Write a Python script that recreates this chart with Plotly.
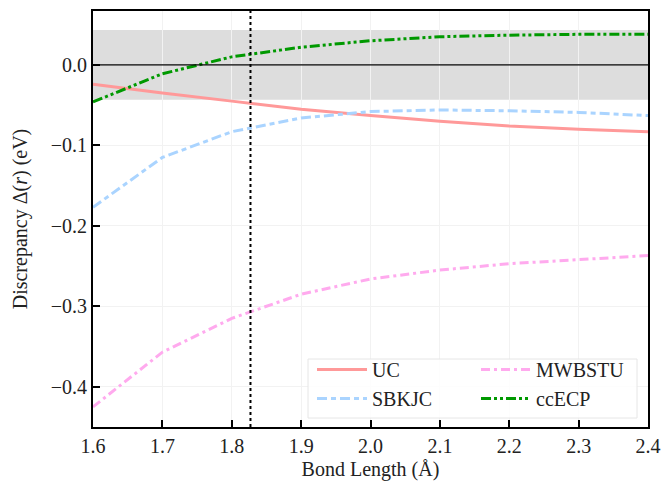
import plotly.graph_objects as go

bond_length = [1.6, 1.7, 1.8, 1.9, 2.0, 2.1, 2.2, 2.3, 2.4]
uc = [-0.024, -0.035, -0.045, -0.055, -0.063, -0.070, -0.076, -0.080, -0.083]
sbkjc = [-0.177, -0.115, -0.083, -0.066, -0.058, -0.056, -0.057, -0.059, -0.063]
mwbstu = [-0.425, -0.357, -0.315, -0.285, -0.266, -0.255, -0.247, -0.242, -0.237]
ccecp = [-0.046, -0.011, 0.010, 0.022, 0.030, 0.035, 0.037, 0.038, 0.038]
chem_acc = 0.0434
r_eq = 1.827
x_ticks = [1.6, 1.7, 1.8, 1.9, 2.0, 2.1, 2.2, 2.3, 2.4]
y_ticks = [0.0, -0.1, -0.2, -0.3, -0.4]

FONT = "Liberation Serif"
FS = 20

fig = go.Figure()
fig.add_hrect(y0=-chem_acc, y1=chem_acc, fillcolor="#dddddd", line_width=0, layer="below")
fig.add_hline(y=0, line=dict(color="black", width=1.3))
fig.add_vline(x=r_eq, line=dict(color="black", width=2, dash="3px,3px"))

fig.add_trace(go.Scatter(x=bond_length, y=uc, name="UC", mode="lines",
                         line=dict(color="#ff9999", width=3), legend="legend"))
fig.add_trace(go.Scatter(x=bond_length, y=sbkjc, name="SBKJC", mode="lines",
                         line=dict(color="#aad4ff", width=3, dash="10px,4px,5px,4px"), legend="legend"))
fig.add_trace(go.Scatter(x=bond_length, y=mwbstu, name="MWBSTU", mode="lines",
                         line=dict(color="#ffaaee", width=3, dash="9px,4px,3px,4px"), legend="legend2"))
fig.add_trace(go.Scatter(x=bond_length, y=ccecp, name="ccECP", mode="lines",
                         line=dict(color="#009900", width=3, dash="10px,3px,3px,3px,3px,3px"), legend="legend2"))

# legend frame
fig.add_shape(type="rect", xref="paper", yref="paper",
              x0=(308-93)/555, x1=(637-93)/555, y0=(427-418)/416, y1=(427-359)/416,
              line=dict(color="#e6e6e6", width=1), fillcolor="rgba(255,255,255,0.85)", layer="above")

leg_common = dict(bgcolor="rgba(0,0,0,0)", borderwidth=0, font=dict(family=FONT, size=FS, color="#222"),
                  yanchor="bottom", xanchor="left", itemwidth=50, tracegroupgap=0)
fig.update_layout(
    legend=dict(x=(312-93)/555, y=(427-418)/416, **leg_common),
    legend2=dict(x=(476-93)/555, y=(427-418)/416, **leg_common),
)

axis_common = dict(showline=True, linecolor="black", linewidth=2, mirror=True,
                   ticks="inside", ticklen=7, tickwidth=2, tickcolor="black",
                   showgrid=True, gridcolor="#f2f2f2", gridwidth=1, zeroline=False, automargin=False,
                   tickfont=dict(family=FONT, size=FS, color="#222"))
fig.update_xaxes(range=[1.6, 2.4], tickvals=x_ticks, ticktext=[f"{v:.1f}" for v in x_ticks],
                 title=dict(text="Bond Length (Å)", font=dict(family=FONT, size=FS, color="#222"), standoff=6),
                 **axis_common)
fig.update_yaxes(range=[-0.45, 0.067], tickvals=y_ticks, ticktext=["0.0", "−0.1", "−0.2", "−0.3", "−0.4"],
                 title=dict(text="Discrepancy Δ(<i>r</i>) (eV)", font=dict(family=FONT, size=FS, color="#222"), standoff=18),
                 **axis_common)

fig.update_layout(width=665, height=487, margin=dict(l=93, r=17, t=11, b=60),
                  plot_bgcolor="white", paper_bgcolor="white", showlegend=True)

fig.write_html("out.html", config={"displayModeBar": False},
               post_script="document.body.style.margin='0';")
